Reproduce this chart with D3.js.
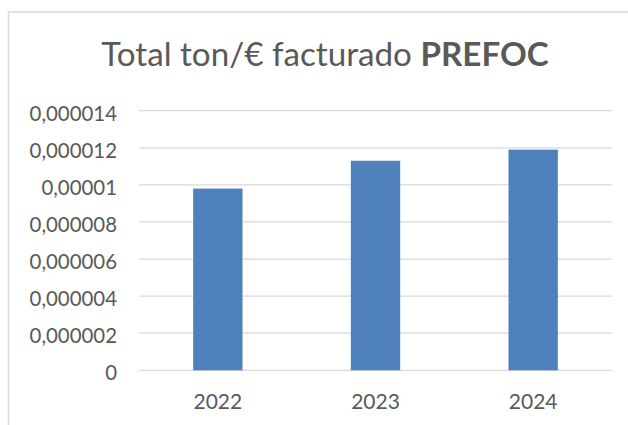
<!DOCTYPE html>
<html>
<head>
  <meta charset="utf-8">
  <style>
  body{
    margin:0;
    background:#fff;
  }
  svg{
    display:block;
    font-family: Lato, "Open Sans", sans-serif;
  }
  .grid line{
    stroke:#d9d9d9;
    stroke-width:1.3px;
  }
  .tick-label{
    fill:#595959;
    font-size:20.4px;
  }
  .year-label{
    fill:#595959;
    font-size:21px;
  }
  .title{
    fill:#595959;
    font-size:33.2px;
  }
  </style>
</head>
<body>
  <svg width="628" height="425"></svg>
  <script src="https://cdn.jsdelivr.net/npm/d3@7"></script>
  <script>

  // data
  var years = ["2022", "2023", "2024"];
  var values = [0.0000098, 0.0000113, 0.0000119];
  var tickValues = [0, 0.000002, 0.000004, 0.000006, 0.000008, 0.00001, 0.000012, 0.000014];
  var tickLabels = ["0", "0,000002", "0,000004", "0,000006", "0,000008", "0,00001", "0,000012", "0,000014"];

  var svg = d3.select("svg");

  var plot = {left: 139, right: 612, top: 110.7, bottom: 370.3};

  // chart frame, runs off the right and bottom of the picture
  svg.append("rect")
      .attr("x", 8.5)
      .attr("y", 12)
      .attr("width", 700)
      .attr("height", 500)
      .attr("fill", "#fff")
      .attr("stroke", "#d9d9d9")
      .attr("stroke-width", 1.5);

  var x = d3.scaleBand()
      .domain(years)
      .range([plot.left, plot.right])
      .paddingInner(0.687)
      .paddingOuter(0.3435);

  var y = d3.scaleLinear()
      .domain([0, 0.000014])
      .range([plot.bottom, plot.top]);

  // gridlines
  svg.append("g")
      .attr("class", "grid")
    .selectAll("line")
    .data(tickValues)
    .enter().append("line")
      .attr("x1", plot.left)
      .attr("x2", plot.right)
      .attr("y1", function(d) { return y(d); })
      .attr("y2", function(d) { return y(d); });

  // y axis labels
  var yAxis = d3.axisLeft(y)
      .tickValues(tickValues)
      .tickFormat(function(d, i) { return tickLabels[i]; })
      .tickSize(0)
      .tickPadding(22);

  var gy = svg.append("g")
      .attr("transform", "translate(" + plot.left + ",0)")
      .call(yAxis);
  gy.select(".domain").remove();
  gy.attr("font-family", null).attr("font-size", null);
  gy.selectAll("text")
      .attr("class", "tick-label")
      .attr("fill", null)
      .attr("dy", "0.47em");

  // bars
  svg.append("g")
    .selectAll("rect")
    .data(values)
    .enter().append("rect")
      .attr("x", function(d, i) { return x(years[i]); })
      .attr("y", function(d) { return y(d); })
      .attr("width", x.bandwidth())
      .attr("height", function(d) { return y(0) - y(d); })
      .attr("fill", "#4f81bd");

  // x axis labels
  var xAxis = d3.axisBottom(x)
      .tickSize(0)
      .tickPadding(23);

  var gx = svg.append("g")
      .attr("transform", "translate(0," + plot.bottom + ")")
      .call(xAxis);
  gx.select(".domain").remove();
  gx.attr("font-family", null).attr("font-size", null);
  gx.selectAll("text")
      .attr("class", "year-label")
      .attr("fill", null)
      .attr("dy", "0.77em");

  // title
  var title = svg.append("text")
      .attr("class", "title")
      .attr("x", 325)
      .attr("y", 66)
      .attr("text-anchor", "middle");
  title.append("tspan").text("Total ton/€ facturado ");
  title.append("tspan").attr("font-weight", "bold").text("PREFOC");

  </script>
</body>
</html>
